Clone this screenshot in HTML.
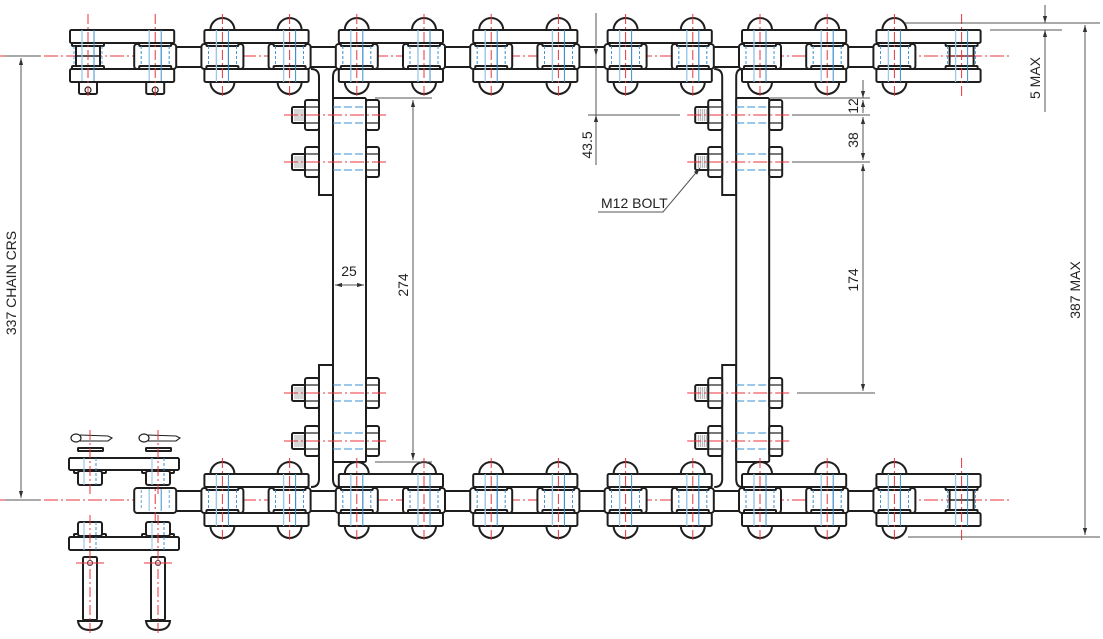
<!DOCTYPE html>
<html><head><meta charset="utf-8">
<style>
html,body{margin:0;padding:0;background:#fff;}
svg{display:block;}
text{font-family:"Liberation Sans",sans-serif;font-size:14px;fill:#222;}
</style></head>
<body>
<svg id="s" xmlns="http://www.w3.org/2000/svg" width="1103" height="639" viewBox="0 0 1103 639">
<defs>
<marker id="ar" viewBox="0 0 10 10" refX="10" refY="5" markerWidth="7" markerHeight="7" orient="auto-start-reverse"><path d="M0,2 L10,5 L0,8 z" fill="#333"/></marker>
</defs>
<g id="g"></g>
<g stroke="#555" stroke-width="1" fill="none">
<line x1="5" y1="56" x2="40" y2="56"/><line x1="5" y1="500" x2="40" y2="500"/>
<line x1="21" y1="58" x2="21" y2="498" marker-start="url(#ar)" marker-end="url(#ar)"/>
<line x1="335" y1="285" x2="364" y2="285" marker-start="url(#ar)" marker-end="url(#ar)"/>
<line x1="375" y1="98" x2="432" y2="98"/><line x1="375" y1="462" x2="432" y2="462"/>
<line x1="413" y1="100" x2="413" y2="460" marker-start="url(#ar)" marker-end="url(#ar)"/>
<line x1="596" y1="13" x2="596" y2="165"/>
<line x1="596" y1="44" x2="596" y2="56" marker-end="url(#ar)"/>
<line x1="596" y1="130" x2="596" y2="115" marker-end="url(#ar)"/>
<line x1="588" y1="115" x2="680" y2="115"/>
<line x1="770" y1="98" x2="870" y2="98"/>
<line x1="792" y1="115" x2="870" y2="115"/>
<line x1="792" y1="162" x2="870" y2="162"/>
<line x1="797" y1="393" x2="875" y2="393"/>
<line x1="863" y1="80" x2="863" y2="98" marker-end="url(#ar)"/>
<line x1="863" y1="113" x2="863" y2="100" marker-end="url(#ar)"/>
<line x1="863" y1="117" x2="863" y2="160" marker-start="url(#ar)" marker-end="url(#ar)"/>
<line x1="863" y1="164" x2="863" y2="391" marker-start="url(#ar)" marker-end="url(#ar)"/>
<line x1="905" y1="23" x2="1100" y2="23"/><line x1="990" y1="30" x2="1062" y2="30"/>
<line x1="1045" y1="5" x2="1045" y2="23" marker-end="url(#ar)"/>
<line x1="1045" y1="112" x2="1045" y2="30" marker-end="url(#ar)"/>
<line x1="908" y1="537" x2="1100" y2="537"/>
<line x1="1085" y1="25" x2="1085" y2="535" marker-start="url(#ar)" marker-end="url(#ar)"/>
<polyline points="598,212 663,212 700,168" marker-end="url(#ar)"/>
</g>
<text transform="translate(16,283) rotate(-90)" text-anchor="middle">337 CHAIN CRS</text>
<text x="349" y="276" text-anchor="middle">25</text>
<text transform="translate(408,285) rotate(-90)" text-anchor="middle">274</text>
<text transform="translate(592,145) rotate(-90)" text-anchor="middle">43.5</text>
<text transform="translate(858,106) rotate(-90)" text-anchor="middle">12</text>
<text transform="translate(858,140) rotate(-90)" text-anchor="middle">38</text>
<text transform="translate(858,280) rotate(-90)" text-anchor="middle">174</text>
<text transform="translate(1040,78) rotate(-90)" text-anchor="middle">5 MAX</text>
<text transform="translate(1080,290) rotate(-90)" text-anchor="middle">387 MAX</text>
<text x="601" y="208">M12 BOLT</text>
</svg>
<script>
var g=document.getElementById('g'),NS='http://www.w3.org/2000/svg';
function el(t,a){var e=document.createElementNS(NS,t);for(var k in a)e.setAttribute(k,a[k]);g.appendChild(e);return e;}
var K='#1e1e1e',W=2;
function rect(x,y,w,h,rx){return el('rect',{x:x,y:y,width:w,height:h,rx:rx||1.5,fill:'#fff',stroke:K,'stroke-width':W});}
function line(x1,y1,x2,y2,c,w,d){return el('line',{x1:x1,y1:y1,x2:x2,y2:y2,stroke:c||K,'stroke-width':w||W,'stroke-dasharray':d||'none'});}
var RED='#e8343c',BLU='#3a8fd0',LBLU='#9cc8e8',DD='14 3 2 3';
var P=[];for(var i=0;i<14;i++)P.push(88+67.2*i);
function redH(y){line(0,y,1010,y,RED,1,DD);}
redH(56);redH(500);
function pinBlue(x,yc,h){line(x-6,yc-h,x-6,yc+h,LBLU,1.3);line(x+6,yc-h,x+6,yc+h,BLU,1);line(x-14,yc-10,x-14,yc+10,BLU,0.8,'3 2');line(x+14,yc-10,x+14,yc+10,BLU,0.8,'3 2');}
function dome(x,y,up){el('path',{d:up?('M'+(x-12)+','+y+' A12,12 0 0 1 '+(x+12)+','+y):('M'+(x-12)+','+y+' A12,12 0 0 0 '+(x+12)+','+y),fill:'#fff',stroke:K,'stroke-width':W});}
function inner(a,b,yc){rect(a-19,yc-9,b-a+38,20,3);rect(a-21,yc-12,42,25,3);rect(b-21,yc-12,42,25,3);pinBlue(a,yc,11);pinBlue(b,yc,11);}
function outer(a,b,yc,domeA,domeB){
 if(domeA){dome(a,yc-26,1);dome(a,yc+26,0);} if(domeB){dome(b,yc-26,1);dome(b,yc+26,0);}
 rect(a-18,yc-26,b-a+37,13);rect(a-18,yc+13,b-a+37,13);
 [a,b].forEach(function(x){rect(x-16,yc-13,32,3,1);rect(x-16,yc+10,32,3,1);pinBlue(x,yc,26);});
}
function redV(x,y1,y2){line(x,y1,x,y2,RED,1,'10 3 2 3');}
var T=56;
for(var i=1;i<13;i+=2)inner(P[i],P[i+1],T);
rect(P[0]-12,T-10,24,21,1);line(P[0]-12,T,P[0]+12,T,K,1.5);
outer(P[0],P[1],T,false,false);
[P[0],P[1]].forEach(function(x){rect(x-9,T+26,18,12,1.5);el('circle',{cx:x,cy:T+34,r:3,fill:'#fff',stroke:K,'stroke-width':1.2});});
for(var i=2;i<12;i+=2)outer(P[i],P[i+1],T,true,true);
rect(P[13]-12,T-10,24,21,1);line(P[13]-12,T,P[13]+12,T,'#8a2020',1.5);
outer(P[12],P[13],T,true,false);
var B=500;
for(var i=1;i<13;i+=2)inner(P[i],P[i+1],B);
for(var i=2;i<12;i+=2)outer(P[i],P[i+1],B,true,true);
rect(P[13]-12,B-10,24,21,1);line(P[13]-12,B,P[13]+12,B,K,1.5);
outer(P[12],P[13],B,true,false);
function attach(dx){
 var s1=319+dx,s2=333+dx,br=366+dx;
 el('path',{d:'M'+(s1-8)+',69 Q'+s1+',69 '+s1+',77 L'+s1+',195 L'+s2+',195 L'+s2+',77 Q'+s2+',69 '+(s2+6)+',69',fill:'#fff',stroke:K,'stroke-width':W});
 el('path',{d:'M'+(s1-8)+',487 Q'+s1+',487 '+s1+',479 L'+s1+',365 L'+s2+',365 L'+s2+',479 Q'+s2+',487 '+(s2+6)+',487',fill:'#fff',stroke:K,'stroke-width':W});
 rect(s2,98,br-s2,364,0);
 [115,162,393,441].forEach(function(y){
  rect(s1-14,y-15,14,30,2);rect(br,y-15,13,30,2);
  line(s1-14,y-8,s1,y-8,K,1.2);line(s1-14,y+8,s1,y+8,K,1.2);
  line(br,y-8,br+13,y-8,K,1.2);line(br,y+8,br+13,y+8,K,1.2);
  rect(s1-27,y-8,13,16,1.5);
  for(var k=0;k<5;k++)line(s1-24+k*2,y-6,s1-24+k*2,y+6,'#777',0.6);
  line(s2,y-8,br,y-8,BLU,1,'8 3');line(s2,y+8,br,y+8,BLU,1,'8 3');
  line(s1-35,y,br+20,y,RED,1,DD);
 });
}
attach(0);attach(403.2);
P.forEach(function(x,i){redV(x,T-42,T+42);if(i>0)redV(x,B-42,B+42);});
var X=[90,158];
rect(69,458,110,12,1.5);rect(69,537,110,13,1.5);
X.forEach(function(x){
 rect(x-16,470,32,3,1);rect(x-12,471,24,14,2);
 rect(x-16,534,32,3,1);rect(x-12,522,24,14,2);
 line(x-6,458,x-6,485,LBLU,1.2);line(x+6,458,x+6,485,BLU,1,'3 2');
 line(x-6,522,x-6,550,LBLU,1.2);line(x+6,522,x+6,550,BLU,1,'3 2');
 rect(x-12,448,25,3,0.5);
 el('ellipse',{cx:x-14,cy:438,rx:5,ry:4,fill:'none',stroke:K,'stroke-width':1.2});
 el('path',{d:'M'+(x-10)+',435 L'+(x+18)+',436 L'+(x+22)+',438 L'+(x+18)+',441 L'+(x-10)+',441',fill:'none',stroke:K,'stroke-width':1.1});
 rect(x-7,557,14,63,1.5);
 el('path',{d:'M'+(x-12)+',621 L'+(x+12)+',621 Q'+(x+11)+',630 '+x+',630 Q'+(x-11)+',630 '+(x-12)+',621 z',fill:'#fff',stroke:K,'stroke-width':W});
 el('circle',{cx:x,cy:563,r:2.5,fill:'#fff',stroke:K,'stroke-width':1});
 redV(x,430,495);redV(x,515,635);line(x-14,563,x+14,563,RED,1);
});
</script>
</body></html>
